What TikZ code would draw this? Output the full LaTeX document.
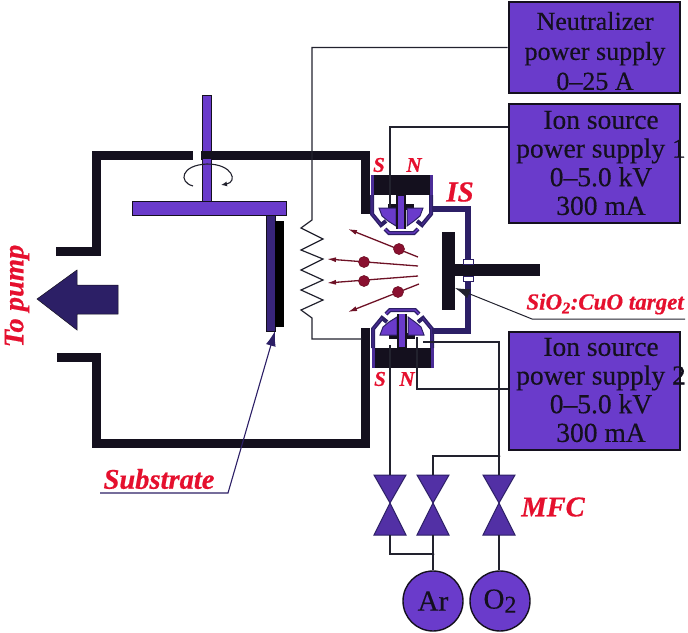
\documentclass[tikz,border=0pt]{standalone}
\usepackage{fontspec}
\setmainfont[BoldItalicFeatures={FakeBold=0.6}]{Liberation Serif}
\newfontfamily\boxfont[FakeBold=0.35,Ligatures=TeX]{Liberation Serif}
\usetikzlibrary{arrows.meta,calc}
\definecolor{vio}{HTML}{6A3BCB}
\definecolor{dvio}{HTML}{2C1F66}
\definecolor{blk}{HTML}{14101E}
\definecolor{redl}{HTML}{E5102E}
\definecolor{dred}{HTML}{6E1226}
\definecolor{dot}{HTML}{8A1030}
\definecolor{wire}{HTML}{22222E}
\tikzset{
 psbox/.style={draw=blk,line width=2pt,fill=vio,minimum width=171pt,inner sep=0pt},
 pstext/.style={text=blk,align=center,inner sep=0pt},
 rlabel/.style={text=redl,inner sep=0pt},
 wall/.style={draw=blk,line width=9pt,miter limit=10},
 wireline/.style={draw=wire,line width=1.2pt},
 vtri/.style={draw=dvio,line width=1pt,fill=vio!62!dvio},
 part/.style={draw=dred,line width=1.3pt,-{Latex[length=9pt,width=5pt]}},
 pdot/.style={circle,fill=dot,draw=dred,line width=0.6pt,minimum size=11pt,inner sep=0pt},
 gas/.style={circle,draw=blk,line width=1.4pt,fill=vio,minimum size=60pt,inner sep=0pt,text=blk},
 pbar/.style={draw=blk,line width=0.9pt,fill=vio},
 duct/.style={draw=dvio,line width=5.5pt},
}
\newcommand{\ionhalf}{%
 \fill[blk] (372,175) rectangle (433,195);
 \fill[vio!50!dvio] (371,175) rectangle (374,195);
 \fill[vio!50!dvio] (430,175) rectangle (433,195);
 \draw[dvio,line width=4pt] (372,195) -- (372,214) -- (381,225) -- (386,221);
 \draw[dvio,line width=4pt] (431,195) -- (431,214) -- (422,225) -- (417,221);
 \draw[vio!40!dvio,line width=1.2pt] (372,195) -- (372,214) -- (381,225);
 \draw[vio!40!dvio,line width=1.2pt] (431,195) -- (431,214) -- (422,225);
 \fill[blk] (388,204) rectangle (396,210);
 \fill[blk] (406,204) rectangle (414,210);
 \draw[draw=dvio,fill=vio,line width=1pt] (379,208) -- (396,208) -- (396,226) -- (388,221) -- (382,216) -- cycle;
 \draw[draw=dvio,fill=vio,line width=1pt] (423,208) -- (407,208) -- (407,226) -- (414,221) -- (420,216) -- cycle;
 \fill[blk] (396,195) rectangle (406,229);
 \fill[vio] (398,196) rectangle (404,229);
 \draw[dvio,line width=4pt] (385,229) -- (389,233) -- (414,233) -- (418,229);
 \draw[vio,line width=1.4pt] (385,229) -- (389,233) -- (414,233) -- (418,229);
}
\begin{document}
\begin{tikzpicture}[x=1pt,y=-1pt]
\useasboundingbox (0,0) rectangle (688,632);
% chamber
\draw[wall] (56,251) -- (96,251) -- (96,155) -- (193,155);
\draw[wall] (201,155) -- (365,155) -- (365,214);
\draw[wall] (57,357) -- (96,357) -- (96,443) -- (365,443) -- (365,328);
% rotary shaft and holder
\node[pbar,minimum width=9pt,minimum height=106pt] (rod) at (206.5,148) {};
\fill[blk] (201,151) rectangle (211,159);
\node[pbar,minimum width=154pt,minimum height=14pt] (plate) at (209,208) {};
\node[draw=blk,line width=0.9pt,fill=dvio!80!vio,minimum width=9pt,minimum height=116pt,inner sep=0pt] (holder) at (270.5,273) {};
\fill[black] (275,221) rectangle (284,327);
\draw[wire,line width=1.1pt,-{Latex[length=6pt,width=5pt]}] (193,186) .. controls (178,182) and (181,165) .. (207,164) .. controls (233,164) and (238,182) .. (221,185);
% pump arrow
\fill[dvio,draw=blk,line width=0.5pt] (37,299) -- (77,270) -- (77,285) -- (118,285) -- (118,314) -- (77,314) -- (77,330) -- cycle;
\node[rlabel,rotate=90,font=\fontsize{28.5}{28}\selectfont\bfseries\itshape] (pump) at (17,296) {To pump};
% boxes
\node[psbox,minimum height=91pt] (b1) at (594,47.5) {};
\node[psbox,minimum height=119pt] (b2) at (594,163.5) {};
\node[psbox,minimum height=118pt] (b3) at (594,391) {};
\node[pstext,font=\fontsize{26}{30}\boxfont] (t1) at (595,51) {Neutralizer\\power supply\\0--25 A};
\node[pstext,font=\fontsize{27.5}{28.7}\boxfont] (t2) at (601,163) {Ion source\\power supply 1\\0--5.0 kV\\300 mA};
\node[pstext,font=\fontsize{27.5}{28.7}\boxfont] (t3) at (601,390) {Ion source\\power supply 2\\0--5.0 kV\\300 mA};
% ion source
\ionhalf
\begin{scope}[shift={(1,543)},yscale=-1]
\ionhalf
\end{scope}
\draw[duct] (432,209) -- (468,209) -- (468,331) -- (432,331);
\node[fill=blk,inner sep=0pt,minimum width=13pt,minimum height=78pt] (target) at (448.5,271) {};
\node[fill=blk,inner sep=0pt,minimum width=85pt,minimum height=12pt] (trod) at (497,270) {};
\node[draw=dvio,fill=white,line width=0.8pt,inner sep=0pt,minimum width=10pt,minimum height=5pt] (w1) at (468,261.5) {};
\node[draw=dvio,fill=white,line width=0.8pt,inner sep=0pt,minimum width=10pt,minimum height=5pt] (w2) at (468,278.5) {};
% particles
\coordinate (a1s) at (418,257); \coordinate (a1e) at (348,229);
\coordinate (a2s) at (418,266); \coordinate (a2e) at (327,259);
\coordinate (a3s) at (418,276); \coordinate (a3e) at (327,283);
\coordinate (a4s) at (419,284); \coordinate (a4e) at (348,312);
\draw[part] (a1s) -- (a1e);
\draw[part] (a2s) -- (a2e);
\draw[part] (a3s) -- (a3e);
\draw[part] (a4s) -- (a4e);
\node[pdot] (d1) at (399,249) {};
\node[pdot] (d2) at (364,262) {};
\node[pdot] (d3) at (364,281) {};
\node[pdot] (d4) at (398,292) {};
% neutralizer wire and filament
\draw[wireline] (b1.west) -- (312,47.5) -- (312,220) -- (301,228) -- (323,239) -- (301,250) -- (323,259) -- (301,270) -- (323,280) -- (301,290) -- (323,300) -- (301,310) -- (312,318) -- (312,339) -- (362,339);
% power wires
\coordinate (j1) at (390,207);
\coordinate (b2w) at (508,127);
\draw[wireline] (b2w) -- (390,127) -- (j1);
\coordinate (b3w) at (508,389);
\coordinate (j2) at (417,337);
\draw[wireline] (b3w) -- (417,389) -- (j2);
% valves
\foreach \n/\x in {v1/390,v2/433,v3/499}{
 \draw[vtri] (\x-16,475) -- (\x+16,475) -- (\x,503) -- cycle;
 \draw[vtri] (\x-16,535) -- (\x+16,535) -- (\x,503) -- cycle;
 \coordinate (\n t) at (\x,475);
 \coordinate (\n b) at (\x,535);
}
\node[gas,font=\fontsize{29}{29}\boxfont] (ar) at (433,601) {Ar};
\node[gas,font=\fontsize{29}{29}\boxfont] (o2) at (500,601) {O\raisebox{-0.3ex}{\fontsize{24}{24}\boxfont 2}};
\coordinate (k1) at (390,345);
\coordinate (k2) at (423,342);
\draw[wireline] (k1) -- (v1t);
\draw[wireline] (k2) -- (499,342) -- (v3t);
\draw[wireline] (499,456) -- (433,456) -- (v2t);
\draw[wireline] (v1b) -- (390,554) -- (433,554);
\draw[wireline] (v2b) -- (ar.north);
\draw[wireline] (v3b) -- (v3b |- o2.north);
\fill[wire] (499,456) circle (1.5pt);
\fill[wire] (433,554) circle (1.5pt);
% target pointer
\node[rlabel,font=\fontsize{23}{24}\selectfont\bfseries\itshape,anchor=east] (tg) at (684,304) {SiO\textsubscript{2}:CuO target};
\coordinate (tge) at (685,319);
\draw[wire,line width=1pt,-{Latex[length=15pt,width=10pt]}] (tge) -- (532,319) -- (455,288);
% substrate
\node[rlabel,font=\fontsize{28.5}{28}\selectfont\bfseries\itshape] (sub) at (159,479) {Substrate};
\coordinate (subl) at (100,493);
\draw[draw=dvio,line width=1.1pt,-{Latex[length=15pt,width=10pt]}] (subl) -- (228,493) -- (275,331);
% labels
\node[rlabel,font=\fontsize{21}{21}\selectfont\bfseries\itshape] (s1) at (379,165) {S};
\node[rlabel,font=\fontsize{21}{21}\selectfont\bfseries\itshape] (n1) at (414,165) {N};
\node[rlabel,font=\fontsize{21}{21}\selectfont\bfseries\itshape] (s2) at (380,379) {S};
\node[rlabel,font=\fontsize{21}{21}\selectfont\bfseries\itshape] (n2) at (407,379) {N};
\node[rlabel,font=\fontsize{29}{29}\selectfont\bfseries\itshape] (is) at (460,192) {IS};
\node[rlabel,font=\fontsize{28.5}{28}\selectfont\bfseries\itshape] (mfc) at (553,507) {MFC};
\end{tikzpicture}
\end{document}
